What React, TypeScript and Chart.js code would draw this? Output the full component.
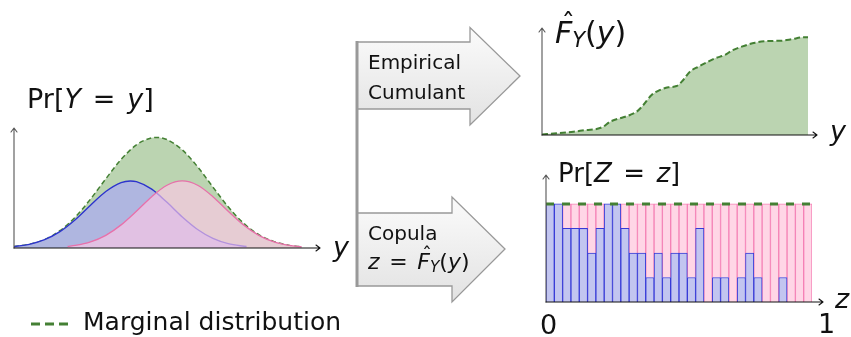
import React, { useEffect, useRef } from "react";
import { Chart, registerables } from "chart.js";
Chart.register(...registerables);

// ---- Left panel: mixture density Pr[Y = y] ----
const blueX = [0, 0.5, 1, 1.5, 2, 2.5, 3, 3.5, 3.8, 4, 4.5, 5, 5.5, 6, 6.5, 7, 7.6];
const blueY = [0.021, 0.055, 0.124, 0.244, 0.422, 0.638, 0.843, 0.976, 1.0, 0.989, 0.878, 0.681, 0.463, 0.276, 0.143, 0.065, 0.022];
const pinkX = [1.75, 2, 2.5, 3, 3.5, 4, 4.5, 5, 5.5, 6, 6.5, 7, 7.5, 8, 8.5, 9, 9.4];
const pinkY = [0.024, 0.038, 0.091, 0.189, 0.345, 0.549, 0.766, 0.936, 1.0, 0.936, 0.766, 0.549, 0.345, 0.189, 0.091, 0.038, 0.017];
const margX = [0, 0.5, 1, 1.5, 2, 2.5, 3, 3.5, 4, 4.5, 4.65, 5, 5.5, 6, 6.5, 7, 7.5, 8, 8.5, 9, 9.4];
const margY = [0.021, 0.055, 0.124, 0.258, 0.46, 0.729, 1.032, 1.321, 1.538, 1.644, 1.65, 1.617, 1.463, 1.212, 0.909, 0.614, 0.371, 0.199, 0.095, 0.039, 0.017];

// ---- Top right: empirical CDF ----
const ecdfX = [0, 0.055, 0.118, 0.168, 0.205, 0.23, 0.256, 0.306, 0.331, 0.356, 0.381, 0.412, 0.444, 0.475, 0.506, 0.531, 0.556, 0.588, 0.625, 0.65, 0.688, 0.713, 0.751, 0.801, 0.851, 0.901, 0.939, 0.982, 1.0];
const ecdfY = [0.005, 0.017, 0.034, 0.051, 0.061, 0.085, 0.136, 0.181, 0.205, 0.239, 0.307, 0.409, 0.461, 0.488, 0.501, 0.563, 0.648, 0.699, 0.751, 0.785, 0.819, 0.863, 0.904, 0.945, 0.962, 0.965, 0.98, 1.0, 1.0];

// ---- Bottom right: copula histogram Pr[Z = z] (in quarters) ----
const blueQ = [4, 4, 3, 3, 3, 2, 3, 4, 4, 3, 2, 2, 1, 2, 1, 2, 2, 1, 3, 0, 1, 1, 0, 1, 2, 1, 0, 0, 1, 0, 0, 0];
const pinkQ = [0, 0, 1, 1, 1, 2, 1, 0, 0, 1, 2, 2, 3, 2, 3, 2, 2, 3, 1, 4, 3, 3, 4, 3, 2, 3, 4, 4, 3, 4, 4, 4];
const binLabels = blueQ.map((_, i) => `bin ${i + 1}`);
const uniformLevel = 4;

const FONT = "'DejaVu Sans', sans-serif";
const GREEN_LINE = "rgb(68,128,52)";

function axesPlugin(extX: number, extY: number) {
  return {
    id: "arrowAxes",
    afterDatasetsDraw(chart: any) {
      const { ctx, chartArea } = chart;
      const { left, right, top, bottom } = chartArea;
      const tx = right + extX;
      const ty = top - extY;
      ctx.save();
      ctx.lineWidth = 1.1;
      ctx.lineCap = "round";
      ctx.lineJoin = "round";
      ctx.strokeStyle = "#555";
      ctx.beginPath();
      ctx.moveTo(left, bottom);
      ctx.lineTo(left, ty);
      ctx.moveTo(left - 3, ty + 4);
      ctx.lineTo(left, ty);
      ctx.lineTo(left + 3, ty + 4);
      ctx.stroke();
      ctx.strokeStyle = "#111";
      ctx.beginPath();
      ctx.moveTo(left, bottom);
      ctx.lineTo(tx, bottom);
      ctx.moveTo(tx - 4, bottom - 3);
      ctx.lineTo(tx, bottom);
      ctx.lineTo(tx - 4, bottom + 3);
      ctx.stroke();
      ctx.restore();
    },
  };
}

const baseOptions = (padding: any) => ({
  responsive: false,
  animation: false as const,
  layout: { padding },
  plugins: { legend: { display: false }, tooltip: { enabled: false }, title: { display: false } },
});

const pts = (xs: number[], ys: number[]) => xs.map((x, i) => ({ x, y: ys[i] }));

function ChartCanvas({ make, left, top, width, height }: any) {
  const ref = useRef<HTMLCanvasElement>(null);
  useEffect(() => {
    const c = new Chart(ref.current as HTMLCanvasElement, make());
    return () => c.destroy();
  }, []);
  return (
    <canvas
      ref={ref}
      width={width}
      height={height}
      style={{ position: "absolute", left, top, width, height }}
    />
  );
}

const densityConfig = () => ({
  type: "line",
  data: {
    datasets: [
      {
        label: "Component 2",
        data: pts(pinkX, pinkY),
        borderColor: "rgb(232,112,170)",
        backgroundColor: "rgba(255,200,230,0.64)",
        fill: "origin",
        borderWidth: 1.3,
        pointRadius: 0,
        cubicInterpolationMode: "monotone",
      },
      {
        label: "Component 1",
        data: pts(blueX, blueY),
        borderColor: "rgb(45,52,205)",
        backgroundColor: "rgba(175,180,228,0.92)",
        fill: "origin",
        borderWidth: 1.4,
        pointRadius: 0,
        cubicInterpolationMode: "monotone",
      },
      {
        label: "Marginal",
        data: pts(margX, margY),
        borderColor: GREEN_LINE,
        backgroundColor: "rgba(120,170,100,0.5)",
        fill: "origin",
        borderWidth: 1.5,
        borderDash: [5, 3],
        pointRadius: 0,
        cubicInterpolationMode: "monotone",
      },
    ],
  },
  options: {
    ...baseOptions({ left: 14, top: 8, right: 20, bottom: 12 }),
    scales: {
      x: { type: "linear", min: 0, max: 10, display: false },
      y: { min: 0, max: 1.79, display: false },
    },
  },
  plugins: [axesPlugin(0, 0)],
});

const ecdfConfig = () => ({
  type: "line",
  data: {
    datasets: [
      {
        label: "Empirical CDF",
        data: pts(ecdfX, ecdfY),
        borderColor: GREEN_LINE,
        backgroundColor: "rgba(120,170,100,0.5)",
        fill: "origin",
        borderWidth: 2,
        borderDash: [6, 3],
        pointRadius: 0,
        cubicInterpolationMode: "monotone",
      },
    ],
  },
  options: {
    ...baseOptions({ left: 12, top: 13, right: 22, bottom: 10 }),
    scales: {
      x: { type: "linear", min: 0, max: 1, display: false },
      y: { min: 0, max: 1.095, display: false },
    },
  },
  plugins: [axesPlugin(9, 0)],
});

const copulaConfig = () => ({
  type: "bar",
  data: {
    labels: binLabels,
    datasets: [
      {
        type: "line",
        label: "Marginal",
        data: [
          { x: 0, y: uniformLevel },
          { x: binLabels.length, y: uniformLevel },
        ],
        xAxisID: "x2",
        yAxisID: "y2",
        borderColor: GREEN_LINE,
        borderWidth: 3,
        borderDash: [8, 8],
        pointRadius: 0,
        fill: false,
        order: 0,
      },
      {
        label: "Component 1",
        data: blueQ,
        backgroundColor: "rgb(194,197,240)",
        borderColor: "rgb(55,58,215)",
        borderWidth: 1,
        barPercentage: 1,
        categoryPercentage: 1,
        grouped: false,
        stack: "z",
        order: 1,
      },
      {
        label: "Component 2",
        data: pinkQ,
        backgroundColor: "rgb(255,214,230)",
        borderColor: "rgb(245,130,182)",
        borderWidth: 1,
        barPercentage: 1,
        categoryPercentage: 1,
        grouped: false,
        stack: "z",
        order: 2,
      },
    ],
  },
  options: {
    ...baseOptions({ left: 16, top: 10, right: 18, bottom: 8 }),
    scales: {
      x: { type: "category", stacked: true, display: false, offset: true },
      y: { type: "linear", stacked: true, min: 0, max: 5.18, display: false },
      x2: { type: "linear", axis: "x", offset: false, grid: { offset: false }, min: 0, max: binLabels.length, display: false },
      y2: { type: "linear", axis: "y", offset: false, min: 0, max: 5.18, display: false },
    },
  },
  plugins: [axesPlugin(11, 0)],
});

function T({ left, top, size, children, style }: any) {
  return (
    <div
      style={{
        position: "absolute",
        left,
        top,
        fontSize: size,
        lineHeight: 1,
        fontFamily: FONT,
        whiteSpace: "nowrap",
        color: "#111",
        ...style,
      }}
    >
      {children}
    </div>
  );
}

function FHat() {
  return (
    <span style={{ position: "relative", display: "inline-block" }}>
      <i>F</i>
      <span style={{ position: "absolute", left: "0.24em", top: "-0.3em", fontSize: "0.9em" }}>ˆ</span>
    </span>
  );
}

function FHatY() {
  return (
    <>
      <FHat />
      <i style={{ fontSize: "0.7em", position: "relative", top: "0.2em" }}>Y</i>
      <span>(</span>
      <i>y</i>
      <span>)</span>
    </>
  );
}

const Eq = () => <span style={{ margin: "0 0.12em" }}> = </span>;

export default function App() {
  return (
    <div style={{ position: "absolute", left: 0, top: 0, width: 851, height: 337, background: "#fff", overflow: "hidden" }}>
      <ChartCanvas make={densityConfig} left={0} top={120} width={340} height={140} />
      <ChartCanvas make={ecdfConfig} left={530} top={15} width={300} height={130} />
      <ChartCanvas make={copulaConfig} left={530} top={165} width={300} height={145} />

      <svg width={851} height={337} style={{ position: "absolute", left: 0, top: 0 }}>
        <defs>
          <linearGradient id="ag" x1="0" y1="0" x2="0" y2="1">
            <stop offset="0" stopColor="#fbfbfb" />
            <stop offset="1" stopColor="#e2e2e2" />
          </linearGradient>
        </defs>
        <polygon
          points="357,42 470,42 470,27.5 520,76 470,125 470,109 357,109"
          fill="url(#ag)"
          stroke="#999"
          strokeWidth={1.3}
        />
        <polygon
          points="357,213 452,213 452,197 505,249 452,302 452,286 357,286"
          fill="url(#ag)"
          stroke="#999"
          strokeWidth={1.3}
        />
        <line x1={357} y1={41} x2={357} y2={287} stroke="#999" strokeWidth={3} />
        <line x1={31} y1={324} x2={69} y2={324} stroke={GREEN_LINE} strokeWidth={3.2} strokeDasharray="9 5" />
      </svg>

      <T left={27} top={85} size={27}>
        Pr[<i>Y</i><Eq /><i>y</i>]
      </T>
      <T left={333} top={233} size={27}>
        <i>y</i>
      </T>
      <T left={555} top={18} size={30}>
        <FHatY />
      </T>
      <T left={830} top={117} size={27}>
        <i>y</i>
      </T>
      <T left={558} top={160} size={26}>
        Pr[<i>Z</i><Eq /><i>z</i>]
      </T>
      <T left={835} top={285} size={27}>
        <i>z</i>
      </T>
      <T left={540} top={311} size={27}>0</T>
      <T left={818} top={310} size={27}>1</T>

      <T left={368} top={52} size={20}>Empirical</T>
      <T left={368} top={82} size={20}>Cumulant</T>
      <T left={368} top={223} size={20}>Copula</T>
      <T left={368} top={251} size={22}>
        <i>z</i><Eq /><FHatY />
      </T>

      <T left={83} top={309} size={25}>Marginal distribution</T>
    </div>
  );
}
